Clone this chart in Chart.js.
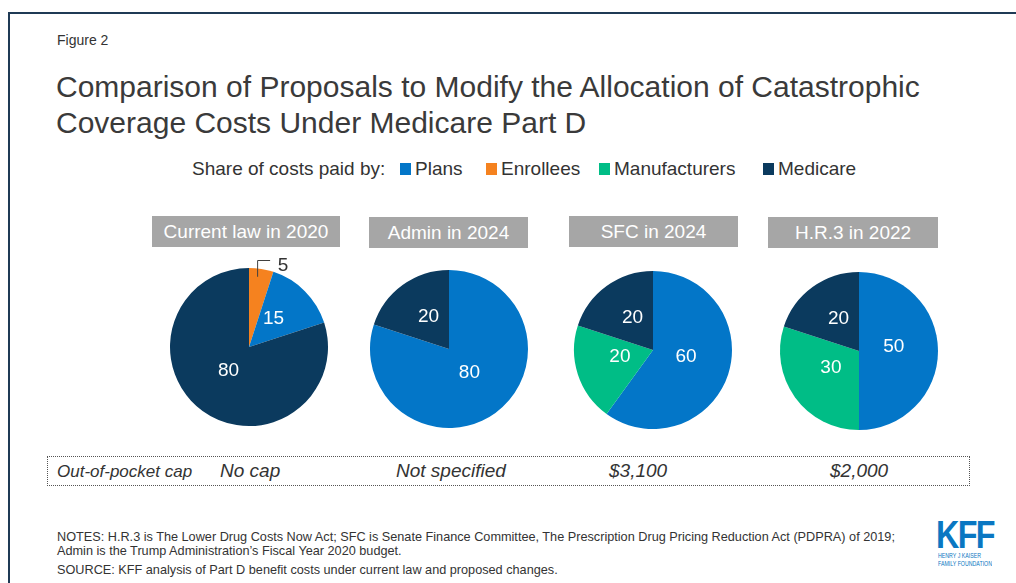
<!DOCTYPE html>
<html>
<head>
<meta charset="utf-8">
<script src="https://cdn.jsdelivr.net/npm/chart.js@4/dist/chart.umd.min.js"></script>
<style>
  body { margin: 0; background: #fff; font-family: "Liberation Sans", Arial, sans-serif; color: #333; }
  #page { position: relative; width: 1016px; height: 583px; overflow: hidden; }
  .frame { position: absolute; left: 8px; top: 12px; width: 1100px; height: 700px; border-left: 2px solid #1f3a55; border-top: 2px solid #1f3a55; }
  .abs { position: absolute; white-space: nowrap; }
  .box { position: absolute; background: #a6a6a6; color: #fff; font-size: 19px; text-align: center; line-height: 31px; height: 31px; }
  .sw { position: absolute; width: 11px; height: 12px; top: 5px; }
  canvas { position: absolute; }
  .cap { font-style: italic; font-size: 19px; top: 460px; }
</style>
</head>
<body>
<div id="page">
  <div class="frame"></div>
  <div class="abs" style="left:57px;top:32px;font-size:14px;">Figure 2</div>
  <div class="abs" style="left:56px;top:69px;font-size:30px;line-height:36px;color:#3a3a3a;">Comparison of Proposals to Modify the Allocation of Catastrophic<br>Coverage Costs Under Medicare Part D</div>
  <div id="legend" class="abs" style="left:0;top:158px;font-size:19px;width:1016px;height:24px;"></div>
  <div id="boxes"></div>
  <canvas id="pie0" width="200" height="200"></canvas>
  <canvas id="pie1" width="200" height="200"></canvas>
  <canvas id="pie2" width="200" height="200"></canvas>
  <canvas id="pie3" width="200" height="200"></canvas>
  <div class="abs" style="left:47px;top:456px;width:921px;height:28px;border:1.5px dotted #555;"></div>
  <div class="abs cap" style="left:57px;font-size:17px;top:462px;">Out-of-pocket cap</div>
  <div id="caps"></div>
  <div class="abs" style="left:57px;top:530px;font-size:12.7px;line-height:14px;">NOTES: H.R.3 is The Lower Drug Costs Now Act; SFC is Senate Finance Committee, The Prescription Drug Pricing Reduction Act (PDPRA) of 2019;<br>Admin is the Trump Administration’s Fiscal Year 2020 budget.</div>
  <div class="abs" style="left:57px;top:563px;font-size:12.7px;">SOURCE: KFF analysis of Part D benefit costs under current law and proposed changes.</div>
  <div class="abs" style="left:936px;top:514px;font-size:38px;font-weight:bold;color:#0a77c2;letter-spacing:-2px;transform:scaleX(0.85);transform-origin:0 0;">KFF</div>
  <div class="abs" style="left:938px;top:552px;font-size:7px;line-height:8px;color:#0a77c2;transform:scaleX(0.75);transform-origin:0 0;">HENRY J KAISER<br>FAMILY FOUNDATION</div>
</div>
<script>
// legend
const legendLabels = ["Plans", "Enrollees", "Manufacturers", "Medicare"];
const legendColors = ["#0376c8", "#f5821f", "#00bd86", "#0b3a5e"];
const legendX = [400, 486, 599, 763];

// pies
const pieTitles = ["Current law in 2020", "Admin in 2024", "SFC in 2024", "H.R.3 in 2022"];
const pieLabels = [
  ["Enrollees", "Plans", "Medicare"],
  ["Plans", "Medicare"],
  ["Plans", "Manufacturers", "Medicare"],
  ["Plans", "Manufacturers", "Medicare"]
];
const pieValues = [
  [5, 15, 80],
  [80, 20],
  [60, 20, 20],
  [50, 30, 20]
];
const capLabels = ["No cap", "Not specified", "$3,100", "$2,000"];

const pieCenters = [[249, 347], [449, 349], [653, 350], [859, 351]];
const boxPos = [[152, 216, 188], [369, 217, 159], [569, 216, 169], [768, 217, 170]];
const capPos = [220, 396, 609, 830];

let lg = '<span class="abs" style="left:192px;top:0">Share of costs paid by:</span>';
legendLabels.forEach((l, i) => {
  lg += '<span class="sw" style="left:' + legendX[i] + 'px;background:' + legendColors[i] + '"></span>' +
        '<span class="abs" style="top:0;left:' + (legendX[i] + 15) + 'px">' + l + '</span>';
});
document.getElementById("legend").innerHTML = lg;

let bx = "";
pieTitles.forEach((t, i) => {
  const p = boxPos[i];
  bx += '<div class="box" style="left:' + p[0] + 'px;top:' + p[1] + 'px;width:' + p[2] + 'px">' + t + '</div>';
});
document.getElementById("boxes").innerHTML = bx;

let cp = "";
capLabels.forEach((c, i) => {
  cp += '<div class="abs cap" style="left:' + capPos[i] + 'px">' + c + '</div>';
});
document.getElementById("caps").innerHTML = cp;

const sliceLabels = {
  id: "sliceLabels",
  afterDatasetsDraw(chart) {
    const ctx = chart.ctx;
    const meta = chart.getDatasetMeta(0);
    const vals = chart.data.datasets[0].data;
    ctx.save();
    ctx.font = '19px "Liberation Sans", Arial, sans-serif';
    ctx.textAlign = "center";
    ctx.textBaseline = "middle";
    meta.data.forEach((arc, i) => {
      const v = vals[i];
      if (v < 10) {
        // small slice: leader line outside the pie
        const mid = (arc.startAngle + arc.endAngle) / 2;
        const x0 = arc.x + Math.cos(mid) * arc.outerRadius * 0.9;
        const y0 = arc.y + Math.sin(mid) * arc.outerRadius * 0.9;
        const yTop = arc.y - arc.outerRadius - 8;
        ctx.strokeStyle = "#404040";
        ctx.lineWidth = 1;
        ctx.beginPath();
        ctx.moveTo(x0 - 2.5, y0);
        ctx.lineTo(x0 - 2.5, yTop + 0.5);
        ctx.lineTo(x0 + 10, yTop + 0.5);
        ctx.stroke();
        ctx.fillStyle = "#333";
        ctx.fillText(String(v), x0 + 23, yTop + 6);
      } else {
        const pt = arc.getCenterPoint();
        const lx = arc.x + (pt.x - arc.x) * 0.88;
        const ly = arc.y + (pt.y - arc.y) * 0.88 - 4;
        ctx.fillStyle = "#fff";
        ctx.fillText(String(v), lx, ly);
      }
    });
    ctx.restore();
  }
};

pieValues.forEach((vals, i) => {
  const cv = document.getElementById("pie" + i);
  cv.style.left = (pieCenters[i][0] - 100) + "px";
  cv.style.top = (pieCenters[i][1] - 100) + "px";
  new Chart(cv, {
    type: "pie",
    data: {
      labels: pieLabels[i],
      datasets: [{
        data: vals,
        backgroundColor: pieLabels[i].map(l => legendColors[legendLabels.indexOf(l)]),
        borderWidth: 0,
        hoverOffset: 0
      }]
    },
    options: {
      responsive: false,
      animation: false,
      layout: { padding: 21 },
      plugins: { legend: { display: false }, tooltip: { enabled: false } }
    },
    plugins: [sliceLabels]
  });
});
</script>
</body>
</html>
